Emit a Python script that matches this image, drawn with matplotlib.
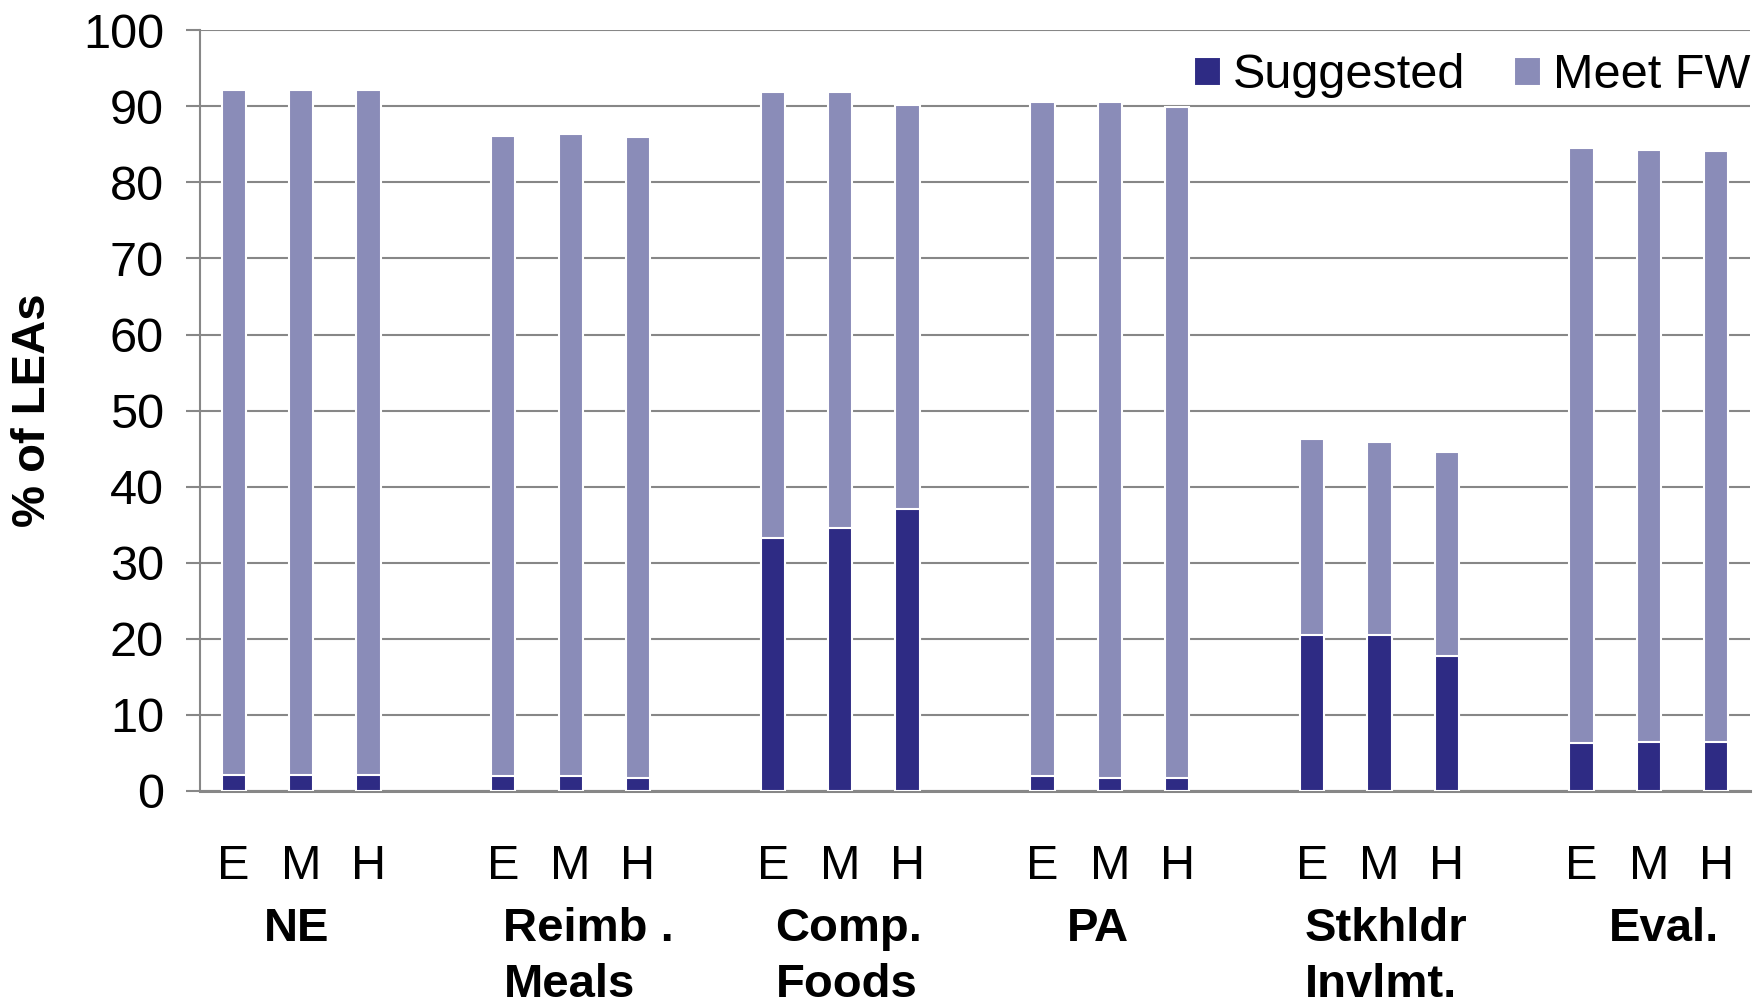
import matplotlib
matplotlib.use("Agg")
import matplotlib.pyplot as plt
import matplotlib.transforms as mtransforms
import numpy as np

plt.rcParams['font.family'] = ['Liberation Sans', 'DejaVu Sans']

# data
groups = ['NE', 'Reimb .\nMeals', 'Comp.\nFoods', 'PA', 'Stkhldr\nInvlmt.', 'Eval.']
levels = ['E', 'M', 'H']
# total height of each bar (Meet FW)
meet_fw = [92.1, 92.1, 92.1,
           86.1, 86.3, 86.0,
           91.9, 91.9, 90.2,
           90.6, 90.6, 89.9,
           46.3, 45.9, 44.6,
           84.5, 84.2, 84.1]
suggested = [2.1, 2.1, 2.1,
             2.0, 2.0, 1.7,
             33.2, 34.5, 37.1,
             2.0, 1.7, 1.7,
             20.5, 20.5, 17.7,
             6.3, 6.4, 6.4]
label_shift = [-0.07, 0.27, 0.13, -0.17, 0.1, 0.23]

DARK = '#2e2b84'
LIGHT = '#8a8cb8'
GRID = '#878787'
FS = 35
FSB = 34

# one empty slot after each group of E/M/H
n_lev = len(levels)
xpos = np.array([g * (n_lev + 1) + k for g in range(len(groups)) for k in range(n_lev)])

fig = plt.figure(figsize=(17.59, 10.05), dpi=100)
ax = fig.add_axes([0.1137, 0.2130, 0.8812, 0.7569])

ax.bar(xpos, meet_fw, width=0.36, color=LIGHT, edgecolor='white', linewidth=1.5,
       label='Meet FW', zorder=2)
ax.bar(xpos, suggested, width=0.36, color=DARK, edgecolor='white', linewidth=1.5,
       label='Suggested', zorder=3)

ax.set_xlim(-0.5, xpos[-1] + 0.5)
ax.set_ylim(0, 100)
ax.set_yticks(np.arange(0, 101, 10))
ax.yaxis.grid(True, color=GRID, linewidth=1.5, zorder=0)
ax.set_axisbelow(True)

for s in ['top', 'right']:
    ax.spines[s].set_visible(False)
ax.spines['left'].set_color(GRID)
ax.spines['left'].set_linewidth(1.5)
ax.spines['bottom'].set_color(GRID)
ax.spines['bottom'].set_linewidth(2.2)

ax.tick_params(axis='y', direction='out', length=10, width=1.5, color=GRID,
               labelsize=FS, pad=16)
ax.set_xticks(xpos, levels * len(groups))
ax.tick_params(axis='x', length=0, labelsize=FS, pad=38)

ax.set_ylabel('% of LEAs', fontsize=FSB, fontweight='bold', labelpad=20)

trans = mtransforms.blended_transform_factory(ax.transData, ax.transAxes)
for g, name in enumerate(groups):
    xc = g * (n_lev + 1) + (n_lev - 1) / 2 + label_shift[g]
    ax.text(xc, -0.153, name, transform=trans, ha='center', va='top',
            multialignment='left', fontsize=FSB, fontweight='bold',
            linespacing=1.35)

handles, labels = ax.get_legend_handles_labels()
ax.legend(handles[::-1], labels[::-1], loc='center right', bbox_to_anchor=(1.0, 0.94),
          frameon=False, ncol=2, fontsize=FS, borderpad=0, borderaxespad=0,
          handlelength=0.55, handleheight=0.55, handletextpad=0.25,
          columnspacing=1.0)

fig.savefig('out.png', dpi=100)
